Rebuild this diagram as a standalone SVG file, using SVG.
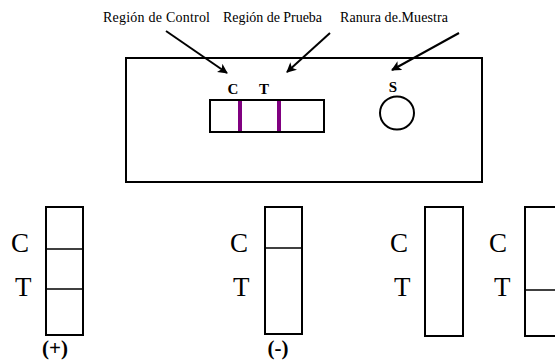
<svg xmlns="http://www.w3.org/2000/svg" width="555" height="360" viewBox="0 0 555 360">
  <style>
    .lbl { font-family: "Liberation Serif", "Times New Roman", serif; font-size: 14px; fill: #000; }
    .big { font-family: "Liberation Serif", "Times New Roman", serif; font-size: 27px; fill: #000; }
    .bold { font-family: "Liberation Serif", "Times New Roman", serif; font-weight: bold; fill: #000; }
    .box { fill: none; stroke: #000; stroke-width: 2; }
    .div { stroke: #000; stroke-width: 1.5; }
    .band { stroke: #800080; stroke-width: 4; }
    .arrow { stroke: #000; stroke-width: 2; fill: none; marker-end: url(#head); }
  </style>
  <defs>
    <marker id="head" viewBox="0 0 10 10" refX="9" refY="5" markerWidth="5" markerHeight="5" orient="auto" markerUnits="strokeWidth">
      <path d="M0,0 L10,5 L0,10 L2.5,5 Z" fill="#000"/>
    </marker>
  </defs>
  <rect width="555" height="360" fill="#fff"/>

  <!-- callout labels -->
  <g id="labels">
    <text class="lbl" x="103" y="22" textLength="107">Región de Control</text>
    <text class="lbl" x="223" y="22" textLength="99">Región de Prueba</text>
    <text class="lbl" x="340" y="22" textLength="108">Ranura de.Muestra</text>
  </g>

  <!-- test cassette -->
  <g id="cassette">
    <rect class="box" x="126" y="58" width="356" height="124"/>
    <rect class="box" x="210" y="100" width="114" height="32"/>
    <line class="band" x1="240" y1="101" x2="240" y2="131"/>
    <line class="band" x1="279" y1="101" x2="279" y2="131"/>
    <text class="bold" x="233" y="94" font-size="15" text-anchor="middle">C</text>
    <text class="bold" x="264" y="94" font-size="15" text-anchor="middle">T</text>
    <text class="bold" x="393" y="92" font-size="15" text-anchor="middle">S</text>
    <ellipse cx="397" cy="113" rx="17" ry="16.5" fill="none" stroke="#000" stroke-width="2"/>
  </g>

  <!-- callout arrows -->
  <g id="connectors">
    <line class="arrow" x1="166" y1="31" x2="227" y2="73"/>
    <line class="arrow" x1="330" y1="33" x2="287" y2="72"/>
    <line class="arrow" x1="459" y1="33" x2="392" y2="70"/>
  </g>

  <!-- result: positive -->
  <g id="strip-positive">
    <text class="big" x="11" y="252">C</text>
    <text class="big" x="15" y="296">T</text>
    <rect class="box" x="46" y="207" width="37" height="128"/>
    <line class="div" x1="46" y1="249" x2="83" y2="249"/>
    <line class="div" x1="46" y1="289" x2="83" y2="289"/>
    <text class="bold" x="55" y="355" font-size="21" text-anchor="middle">(+)</text>
  </g>

  <!-- result: negative -->
  <g id="strip-negative">
    <text class="big" x="230" y="252">C</text>
    <text class="big" x="233" y="296">T</text>
    <rect class="box" x="265" y="207" width="37" height="127"/>
    <line class="div" x1="265" y1="248" x2="302" y2="248"/>
    <text class="bold" x="278" y="355" font-size="21" text-anchor="middle">(-)</text>
  </g>

  <!-- result: invalid, no lines -->
  <g id="strip-invalid-a">
    <text class="big" x="390" y="252">C</text>
    <text class="big" x="394" y="296">T</text>
    <rect class="box" x="425" y="207" width="38" height="129"/>
  </g>

  <!-- result: invalid, test line only -->
  <g id="strip-invalid-b">
    <text class="big" x="489" y="252">C</text>
    <text class="big" x="494" y="296">T</text>
    <rect class="box" x="525" y="207" width="40" height="129"/>
    <line class="div" x1="525" y1="290" x2="565" y2="290"/>
  </g>
</svg>
